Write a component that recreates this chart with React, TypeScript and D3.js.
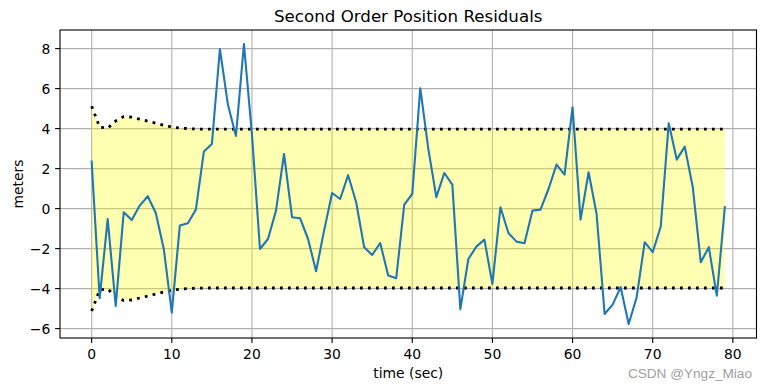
import React from 'react';
import * as d3 from 'd3';

// residuals per second
const RESIDUALS = [
  2.35, -4.48, -0.52, -4.87, -0.18, -0.57, 0.15, 0.62, -0.22, -2.02,
  -5.2, -0.85, -0.73, -0.05, 2.85, 3.23, 7.98, 5.2, 3.63, 8.23,
  3.7, -2.02, -1.52, -0.1, 2.73, -0.43, -0.48, -1.52, -3.13, -1.1,
  0.78, 0.48, 1.67, 0.32, -1.93, -2.32, -1.72, -3.35, -3.48, 0.2,
  0.73, 6.02, 3.0, 0.57, 1.78, 1.2, -5.03, -2.52, -1.9, -1.55,
  -3.77, 0.07, -1.22, -1.65, -1.73, -0.1, -0.05, 0.98, 2.2, 1.7,
  5.07, -0.55, 1.82, -0.27, -5.27, -4.8, -3.93, -5.77, -4.43, -1.68,
  -2.18, -0.9, 4.27, 2.45, 3.1, 1.07, -2.68, -1.93, -4.35, 0.07,
];

// one standard deviation of the filter estimate
const STD = [
  5.12, 4.07, 4.02, 4.38, 4.6, 4.57, 4.47, 4.37, 4.27, 4.17,
  4.08, 4.03, 4.0, 3.98, 3.97, 3.97, 3.97, 3.97, 3.97, 3.97,
  3.97, 3.97, 3.97, 3.97, 3.97, 3.97, 3.97, 3.97, 3.97, 3.97,
  3.97, 3.97, 3.97, 3.97, 3.97, 3.97, 3.97, 3.97, 3.97, 3.97,
  3.97, 3.97, 3.97, 3.97, 3.97, 3.97, 3.97, 3.97, 3.97, 3.97,
  3.97, 3.97, 3.97, 3.97, 3.97, 3.97, 3.97, 3.97, 3.97, 3.97,
  3.97, 3.97, 3.97, 3.97, 3.97, 3.97, 3.97, 3.97, 3.97, 3.97,
  3.97, 3.97, 3.97, 3.97, 3.97, 3.97, 3.97, 3.97, 3.97, 3.97,
];

const X_TICKS = [0, 10, 20, 30, 40, 50, 60, 70, 80];
const Y_TICKS = [-6, -4, -2, 0, 2, 4, 6, 8];

const W = 767;
const H = 391;
const FONT = '"DejaVu Sans", sans-serif';

export default function App() {
  const left = 60, right = 756.5, top = 30, bottom = 338;
  const n = RESIDUALS.length;
  const x = d3.scaleLinear().domain([-3.95, (n - 1) + 3.95]).range([left, right]);
  const y = d3.scaleLinear().domain([-6.47, 8.93]).range([bottom, top]);

  const idx = d3.range(n);
  const line = d3.line<number>().x(i => x(i)).y(i => y(RESIDUALS[i]));
  const upper = d3.line<number>().x(i => x(i)).y(i => y(STD[i]));
  const lower = d3.line<number>().x(i => x(i)).y(i => y(-STD[i]));
  const band = d3.area<number>().x(i => x(i)).y0(i => y(-STD[i])).y1(i => y(STD[i]));

  const fmt = (v: number) => (v < 0 ? '\u2212' + Math.abs(v) : String(v));

  return (
    <svg width={W} height={H} style={{ position: 'absolute', left: 0, top: 0, background: '#fff' }} fontFamily={FONT}>
      <rect x={0} y={0} width={W} height={H} fill="#fff" />
      {/* grid */}
      <g stroke="#b0b0b0" strokeWidth={1.1}>
        {X_TICKS.map(t => <line key={'gx' + t} x1={x(t)} x2={x(t)} y1={top} y2={bottom} />)}
        {Y_TICKS.map(t => <line key={'gy' + t} x1={left} x2={right} y1={y(t)} y2={y(t)} />)}
      </g>
      <path d={band(idx) || ''} fill="#ffff00" fillOpacity={0.3} />
      <path d={upper(idx) || ''} fill="none" stroke="#000" strokeWidth={2.8} strokeDasharray="2.8,5.2" />
      <path d={lower(idx) || ''} fill="none" stroke="#000" strokeWidth={2.8} strokeDasharray="2.8,5.2" />
      <path d={line(idx) || ''} fill="none" stroke="#1f77b4" strokeWidth={2.1} strokeLinejoin="round" strokeLinecap="square" />
      {/* spines */}
      <rect x={left} y={top} width={right - left} height={bottom - top} fill="none" stroke="#000" strokeWidth={1.1} />
      {/* x axis */}
      {X_TICKS.map(t => (
        <g key={'xt' + t}>
          <line x1={x(t)} x2={x(t)} y1={bottom} y2={bottom + 4.9} stroke="#000" strokeWidth={1.1} />
          <text x={x(t)} y={bottom + 20.5} textAnchor="middle" fontSize={13.9} fill="#000">{fmt(t)}</text>
        </g>
      ))}
      {Y_TICKS.map(t => (
        <g key={'yt' + t}>
          <line x1={left - 4.9} x2={left} y1={y(t)} y2={y(t)} stroke="#000" strokeWidth={1.1} />
          <text x={left - 9.7} y={y(t)} dy="0.36em" textAnchor="end" fontSize={13.9} fill="#000">{fmt(t)}</text>
        </g>
      ))}
      <text x={(left + right) / 2} y={377.5} textAnchor="middle" fontSize={13.9} fill="#000">time (sec)</text>
      <text transform={`translate(22.5,${(top + bottom) / 2}) rotate(-90)`} textAnchor="middle" fontSize={13.9} fill="#000">meters</text>
      <text x={(left + right) / 2} y={22} textAnchor="middle" fontSize={16.67} fill="#000">Second Order Position Residuals</text>
      <text x={752} y={378} textAnchor="end" fontSize={13.6} fill="#a0a0a0" fontFamily='"Liberation Sans", Arial, sans-serif'>CSDN @Yngz_Miao</text>
    </svg>
  );
}
